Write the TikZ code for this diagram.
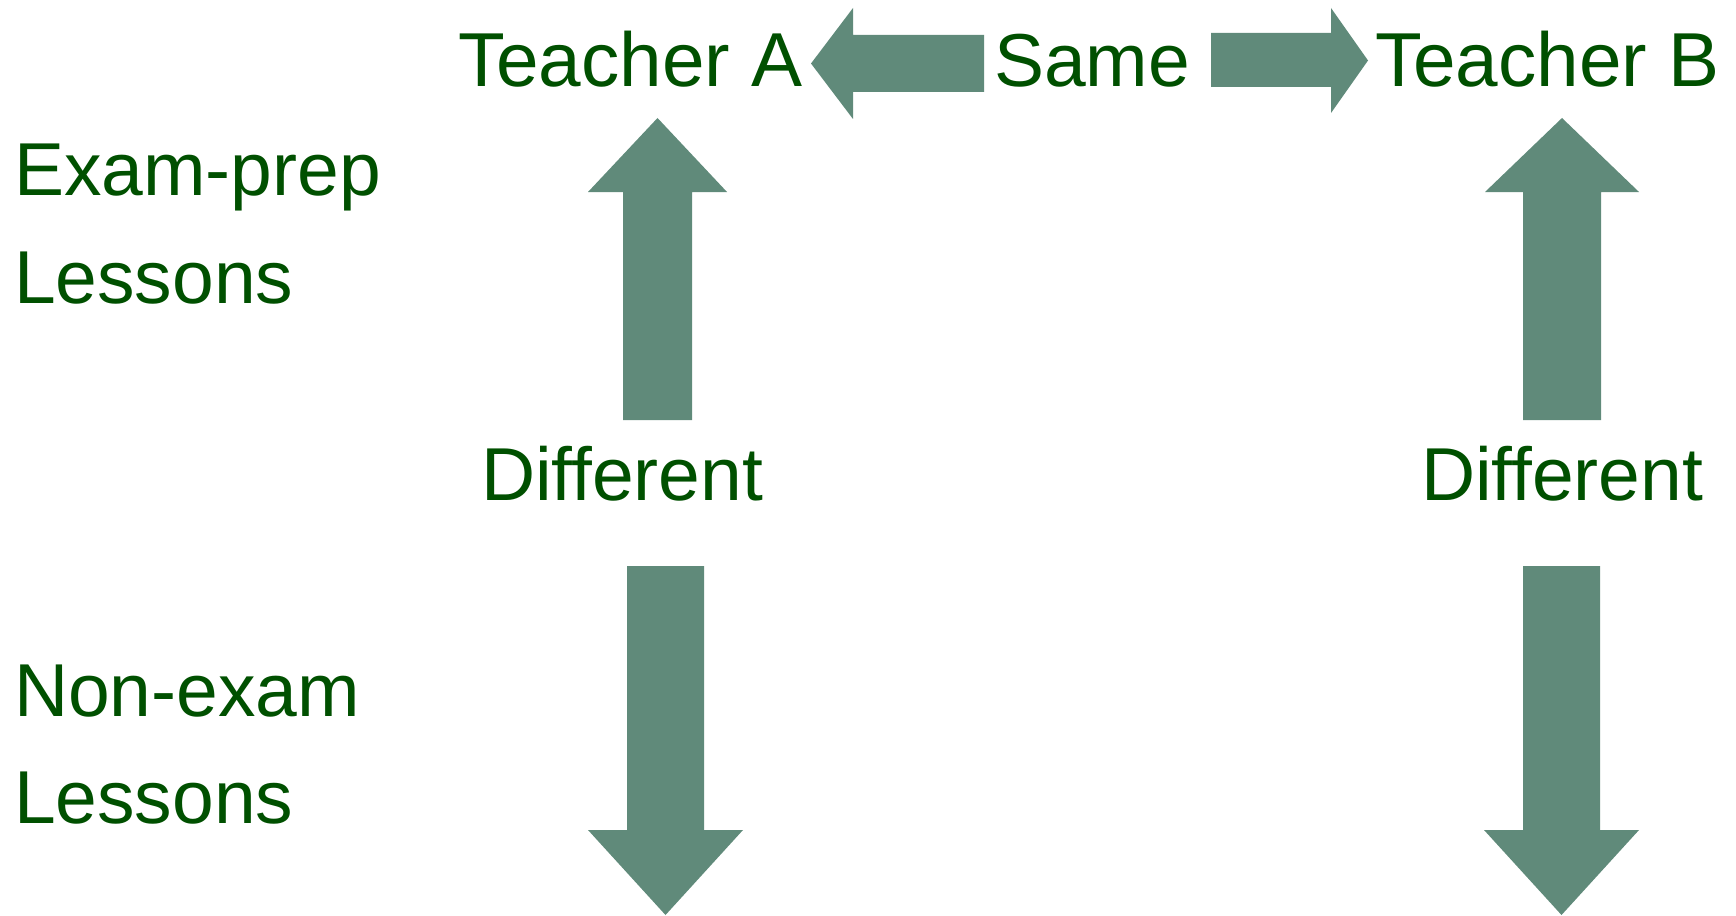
\documentclass[tikz,border=0pt]{standalone}
\usepackage{fontspec}
\setmainfont{Liberation Sans}
\definecolor{txtgreen}{RGB}{0,80,0}
\definecolor{arrowgreen}{RGB}{96,138,122}
\tikzset{
  lbl/.style={inner sep=0pt, outer sep=0pt, anchor=base west, text=txtgreen,
    font=\fontsize{75}{90}\selectfont},
  biglbl/.style={lbl, font=\fontsize{76.5}{90}\selectfont},
  blockarrow/.style={fill=arrowgreen, draw=none}
}
\begin{document}
\begin{tikzpicture}[x=1pt,y=-1pt]
\useasboundingbox[fill=white] (0,0) rectangle (1736,915);
% texts
\node[biglbl] (teacherA) at (458,87) {Teacher A};
\node[lbl] (same) at (994,87) {Same};
\node[biglbl] (teacherB) at (1375,87) {Teacher B};
\node[lbl] (diffA) at (481,500) {Different};
\node[lbl] (diffB) at (1421,500) {Different};
\node[lbl] (exam) at (14,195) {Exam-prep};
\node[lbl] (lessons1) at (14,303) {Lessons};
\node[lbl] (nonexam) at (14,716) {Non-exam};
\node[lbl] (lessons2) at (14,823) {Lessons};
% left arrow (Same -> Teacher A)
\fill[blockarrow] (984,35) -- (853,35) -- (853,8) -- (811,63.5) -- (853,119) -- (853,92) -- (984,92) -- cycle;
% right arrow (Same -> Teacher B)
\fill[blockarrow] (1211,33) -- (1331,33) -- (1331,8) -- (1368,60.5) -- (1331,113) -- (1331,87) -- (1211,87) -- cycle;
% up arrow A
\fill[blockarrow] (623,420) -- (623,192) -- (588,192) -- (657.5,118) -- (727,192) -- (692,192) -- (692,420) -- cycle;
% up arrow B
\fill[blockarrow] (1523,420) -- (1523,192) -- (1485,192) -- (1562,118) -- (1639,192) -- (1601,192) -- (1601,420) -- cycle;
% down arrow A
\fill[blockarrow] (627,566) -- (627,830) -- (588,830) -- (665.5,915) -- (743,830) -- (704,830) -- (704,566) -- cycle;
% down arrow B
\fill[blockarrow] (1523,566) -- (1523,830) -- (1484,830) -- (1561.5,915) -- (1639,830) -- (1600,830) -- (1600,566) -- cycle;
\end{tikzpicture}
\end{document}
